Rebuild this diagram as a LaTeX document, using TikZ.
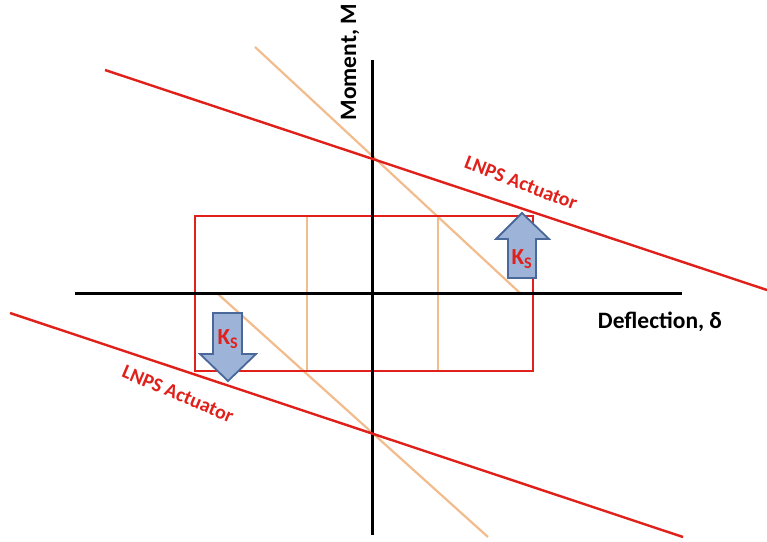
\documentclass[tikz,border=0pt]{standalone}
\usepackage{fontspec}
\setmainfont{Carlito}
\usetikzlibrary{calc}
\definecolor{actred}{HTML}{E0201B}
\definecolor{tanline}{HTML}{F2BC8C}
\definecolor{ksfill}{HTML}{9DB4D8}
\definecolor{ksedge}{HTML}{4A6899}
\tikzset{
  axis/.style={line width=3pt, black},
  redline/.style={line width=2.4pt, actred},
  tanstroke/.style={line width=2.2pt, tanline},
  ksarrow/.style={fill=ksfill, draw=ksedge, line width=1.8pt, line join=miter},
  kslabel/.style={text=actred, font=\bfseries\fontsize{23}{25}\selectfont, inner sep=0pt},
  actlabel/.style={text=actred, font=\bfseries\fontsize{20}{22}\selectfont, inner sep=0pt},
  axlabel/.style={text=black, font=\bfseries\fontsize{23.5}{25}\selectfont, inner sep=0pt},
}
\begin{document}
\begin{tikzpicture}[x=1pt, y=-1pt]
\useasboundingbox (0,0) rectangle (767,541);

% stiffness lines (tan)
\coordinate (t1a) at (255,47);
\coordinate (t1b) at (520,293);
\coordinate (t2a) at (218,294);
\coordinate (t2b) at (488,537);
\draw[tanstroke] (t1a) -- (t1b);
\draw[tanstroke] (t2a) -- (t2b);

% vertical tan lines inside box
\coordinate (v1a) at (307,216);
\coordinate (v1b) at (307,371);
\coordinate (v2a) at (438,216);
\coordinate (v2b) at (438,371);
\draw[tanstroke] (v1a) -- (v1b);
\draw[tanstroke] (v2a) -- (v2b);

% red box
\coordinate (boxa) at (195,216);
\coordinate (boxb) at (533,371);
\draw[redline] (boxa) rectangle (boxb);

% axes
\coordinate (xa) at (75,293);
\coordinate (xb) at (682,293);
\coordinate (ya) at (372,60);
\coordinate (yb) at (372,535);
\draw[axis] (xa) -- (xb);
\draw[axis] (ya) -- (yb);

% actuator lines
\coordinate (r1a) at (105,70);
\coordinate (r1b) at (767,290);
\coordinate (r2a) at (10,313);
\coordinate (r2b) at (683,537);
\draw[redline] (r1a) -- (r1b);
\draw[redline] (r2a) -- (r2b);

% Ks arrows
\draw[ksarrow] (508,278) -- (508,239) -- (496,239) -- (522,213) -- (549,239) -- (536,239) -- (536,278) -- cycle;
\draw[ksarrow] (213,313) -- (213,354) -- (200,354) -- (228,381) -- (256,354) -- (242,354) -- (242,313) -- cycle;
\node[kslabel] (ks1) at (522,259) {K\textsubscript{S}};
\node[kslabel] (ks2) at (228,339) {K\textsubscript{S}};

% labels
\node[actlabel, rotate=-21] (act1) at (521,183) {LNPS Actuator};
\node[actlabel, rotate=-23] (act2) at (178,394) {LNPS Actuator};
\node[axlabel, rotate=90] (mlab) at (350,62) {Moment, M};
\node[axlabel] (dlab) at (660,322) {Deflection, δ};
\end{tikzpicture}
\end{document}
